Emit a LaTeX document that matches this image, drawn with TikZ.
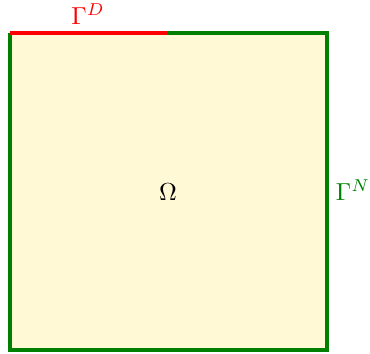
\documentclass[tikz,border=0pt]{standalone}
\definecolor{fillyel}{RGB}{255,249,214}
\definecolor{dgreen}{RGB}{0,128,0}
\begin{document}
\begin{tikzpicture}[x=0.02cm,y=-0.02cm,
  bnd/.style={line width=0.08cm},
  lbl/.style={inner sep=0pt,scale=1.4}]
\useasboundingbox (0,0) rectangle (370,354);
\coordinate (bl) at (10,350);
\coordinate (br) at (327,350);
\coordinate (tr) at (327,33);
\coordinate (tl) at (10,33);
\coordinate (tm) at (168,33);
\fill[fillyel] (tl) rectangle (br);
\draw[bnd,dgreen,line join=miter] (tm) -- (tr) -- (br) -- (bl) -- (tl);
\draw[bnd,red] (tl) -- (tm);
\node[lbl,red] (gd) at (88,14) {$\Gamma^D$};
\node[lbl,dgreen] (gn) at (353,190) {$\Gamma^N$};
\node[lbl] (om) at (168,192) {$\Omega$};
\end{tikzpicture}
\end{document}
